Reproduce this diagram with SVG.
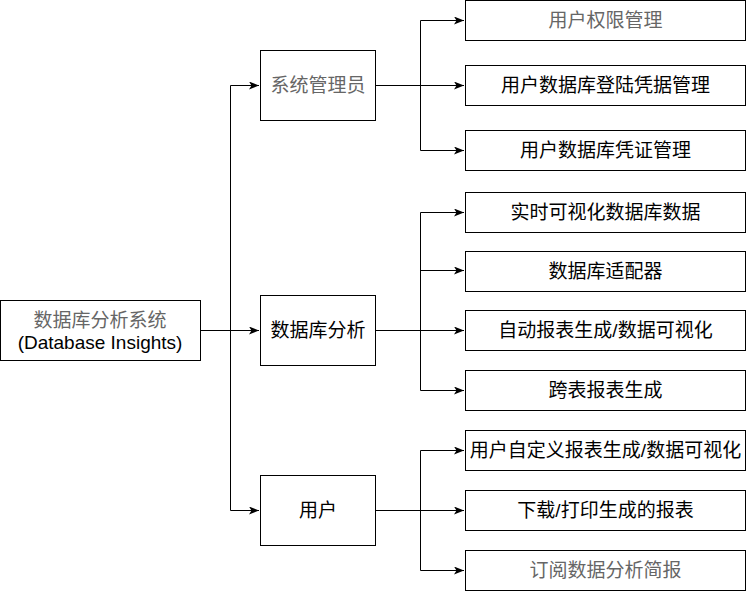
<svg xmlns="http://www.w3.org/2000/svg" width="746" height="591" viewBox="0 0 746 591">
<style>
rect.box{fill:#fff;stroke:#000;stroke-width:1}
text{font-family:"Liberation Sans","Noto Sans CJK SC",sans-serif;font-size:19px;text-anchor:middle;dominant-baseline:central;fill:#000}
text.g{fill:#666}
.c path{fill:none;stroke:#000;stroke-width:1}
</style>
<defs>
<marker id="a" viewBox="0 0 10 8" refX="10" refY="4" markerWidth="10" markerHeight="8" markerUnits="userSpaceOnUse" orient="auto">
<path d="M0,0 L10,4 L0,8 L2.5,4 Z" fill="#000"/>
</marker>
</defs>
<g class="c">
<path d="M200,330.5 H259" marker-end="url(#a)"/>
<path d="M230.5,330.5 V85.5 H259" marker-end="url(#a)"/>
<path d="M230.5,330.5 V510.5 H259" marker-end="url(#a)"/>
<path d="M375,85.5 H464" marker-end="url(#a)"/>
<path d="M420.5,85.5 V20.5 H464" marker-end="url(#a)"/>
<path d="M420.5,85.5 V150.5 H464" marker-end="url(#a)"/>
<path d="M375,330.5 H464" marker-end="url(#a)"/>
<path d="M420.5,330.5 V212.5 H464" marker-end="url(#a)"/>
<path d="M420.5,330.5 V270.5 H464" marker-end="url(#a)"/>
<path d="M420.5,330.5 V390.5 H464" marker-end="url(#a)"/>
<path d="M375,510.5 H464" marker-end="url(#a)"/>
<path d="M420.5,510.5 V450.5 H464" marker-end="url(#a)"/>
<path d="M420.5,510.5 V570.5 H464" marker-end="url(#a)"/>
</g>
<g id="root"><rect class="box" x="0.5" y="300.5" width="200" height="60"/><text class="g" x="100" y="320">数据库分析系统</text><text x="100" y="342">(Database Insights)</text></g>
<g id="admin"><rect class="box" x="260.5" y="50.5" width="115" height="70"/><text class="g" x="318" y="85.5">系统管理员</text></g>
<g id="analysis"><rect class="box" x="260.5" y="295.5" width="115" height="70"/><text x="318" y="330.5">数据库分析</text></g>
<g id="user"><rect class="box" x="260.5" y="475.5" width="115" height="70"/><text x="318" y="510.5">用户</text></g>
<g id="n1"><rect class="box" x="465.5" y="0.5" width="280" height="40"/><text class="g" x="605.5" y="20.5">用户权限管理</text></g>
<g id="n2"><rect class="box" x="465.5" y="65.5" width="280" height="40"/><text x="605.5" y="85.5">用户数据库登陆凭据管理</text></g>
<g id="n3"><rect class="box" x="465.5" y="130.5" width="280" height="40"/><text x="605.5" y="150.5">用户数据库凭证管理</text></g>
<g id="n4"><rect class="box" x="465.5" y="192.5" width="280" height="40"/><text x="605.5" y="212.5">实时可视化数据库数据</text></g>
<g id="n5"><rect class="box" x="465.5" y="251.5" width="280" height="40"/><text x="605.5" y="271.5">数据库适配器</text></g>
<g id="n6"><rect class="box" x="465.5" y="310.5" width="280" height="40"/><text x="605.5" y="330.5">自动报表生成/数据可视化</text></g>
<g id="n7"><rect class="box" x="465.5" y="370.5" width="280" height="40"/><text x="605.5" y="390.5">跨表报表生成</text></g>
<g id="n8"><rect class="box" x="465.5" y="430.5" width="280" height="40"/><text x="605.5" y="450.5">用户自定义报表生成/数据可视化</text></g>
<g id="n9"><rect class="box" x="465.5" y="490.5" width="280" height="40"/><text x="605.5" y="510.5">下载/打印生成的报表</text></g>
<g id="n10"><rect class="box" x="465.5" y="550.5" width="280" height="40"/><text class="g" x="605.5" y="570.5">订阅数据分析简报</text></g>
</svg>
